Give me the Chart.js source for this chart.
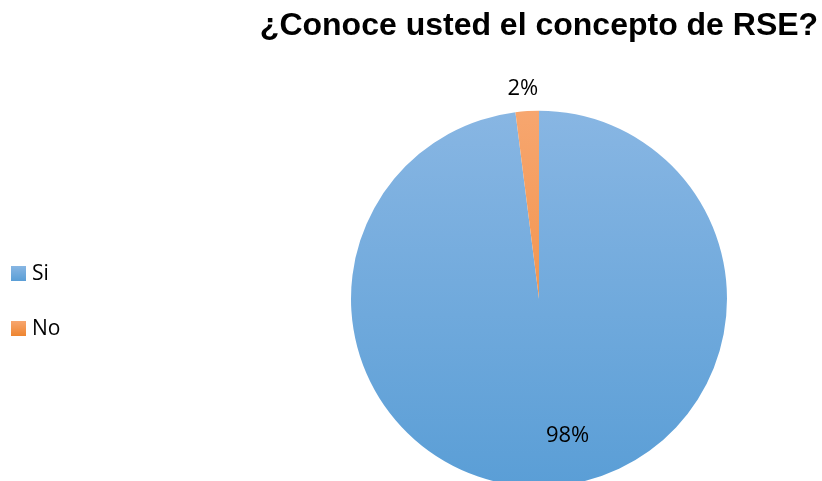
<!DOCTYPE html>
<html lang="es">
<head>
    <meta charset="UTF-8">
    <title>¿Conoce usted el concepto de RSE?</title>
    <script src="https://cdn.jsdelivr.net/npm/chart.js"></script>
    <style>
        html, body { margin: 0; padding: 0; background: #fff; overflow: hidden; }
        .wrap { position: relative; width: 822px; height: 481px; }
        #rseChart { position: absolute; left: 0; top: 0; }
        .legend { position: absolute; left: 11px; top: 262px; font-family: "Open Sans", "Liberation Sans", sans-serif; font-size: 21px; color: #000; }
        .legend div { height: 55px; line-height: 20px; }
        .legend span.box { display: inline-block; width: 15px; height: 15px; margin-right: 6px; vertical-align: -1px; }
    </style>
</head>
<body>
<div class="wrap">
    <canvas id="rseChart" width="822" height="481"></canvas>
    <div class="legend" id="legend"></div>
</div>

<script>
    // Survey answers
    const answers = ['Si', 'No'];
    const percents = [98, 2];

    // top / bottom of the gradient for each slice
    const topColors = ['#88b6e3', '#f7a66f'];
    const bottomColors = ['#5a9ed6', '#ee8530'];

    const PIE_RADIUS = 188;

    function sliceFill(context) {
        const chart = context.chart;
        const area = chart.chartArea;
        if (!area) return topColors[context.dataIndex];
        const cy = (area.top + area.bottom) / 2;
        const g = chart.ctx.createLinearGradient(0, cy - PIE_RADIUS, 0, cy + PIE_RADIUS);
        g.addColorStop(0, topColors[context.dataIndex]);
        g.addColorStop(1, bottomColors[context.dataIndex]);
        return g;
    }

    // percentage labels, placed along each slice's middle angle
    const labelRadius = [0.73, 1.12];
    const labelNudgeX = [20, -3];
    const percentLabels = {
        id: 'percentLabels',
        afterDatasetsDraw(chart) {
            const ctx = chart.ctx;
            const meta = chart.getDatasetMeta(0);
            ctx.save();
            ctx.font = '22px "Open Sans", "Liberation Sans", sans-serif';
            ctx.fillStyle = '#000';
            ctx.textAlign = 'center';
            ctx.textBaseline = 'middle';
            meta.data.forEach(function (arc, i) {
                const p = arc.getProps(['x', 'y', 'startAngle', 'endAngle', 'outerRadius'], true);
                const mid = (p.startAngle + p.endAngle) / 2;
                const r = p.outerRadius * labelRadius[i];
                ctx.fillText(percents[i] + '%', p.x + Math.cos(mid) * r + labelNudgeX[i], p.y + Math.sin(mid) * r);
            });
            ctx.restore();
        }
    };

    const ctxRse = document.getElementById('rseChart').getContext('2d');
    const rseChart = new Chart(ctxRse, {
        type: 'pie',
        data: {
            labels: answers,
            datasets: [{
                data: percents,
                backgroundColor: sliceFill,
                borderWidth: 0,
                clip: false
            }]
        },
        options: {
            responsive: false,
            animation: false,
            radius: PIE_RADIUS,
            layout: {
                padding: { left: 256, right: 0, top: 0, bottom: 0 }
            },
            plugins: {
                legend: { display: false },
                tooltip: { enabled: false },
                title: {
                    display: true,
                    fullSize: false,
                    text: '¿Conoce usted el concepto de RSE?',
                    color: '#000',
                    font: { family: '"Liberation Sans", Arial, sans-serif', size: 32, weight: 'bold' },
                    padding: { top: 7, bottom: 71 }
                }
            }
        },
        plugins: [percentLabels]
    });

    // legend entries next to the chart
    const legendEl = document.getElementById('legend');
    answers.forEach(function (name, i) {
        const row = document.createElement('div');
        const box = document.createElement('span');
        box.className = 'box';
        box.style.background = 'linear-gradient(' + topColors[i] + ', ' + bottomColors[i] + ')';
        row.appendChild(box);
        row.appendChild(document.createTextNode(name));
        legendEl.appendChild(row);
    });
</script>
</body>
</html>
